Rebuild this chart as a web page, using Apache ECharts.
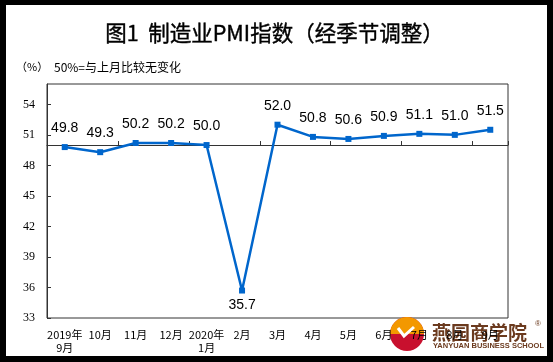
<!DOCTYPE html>
<html>
<head>
<meta charset="utf-8">
<script src="https://cdn.jsdelivr.net/npm/echarts@6/dist/echarts.min.js"></script>
<style>
html,body{margin:0;padding:0;background:#000;}
#chart{width:553px;height:362px;}
</style>
</head>
<body>
<div id="chart"></div>
<script>
const categories = ['2019年\n9月','10月','11月','12月','2020年\n1月','2月','3月','4月','5月','6月','7月','8月','9月'];
const pmiValues = [49.8, 49.3, 50.2, 50.2, 50.0, 35.7, 52.0, 50.8, 50.6, 50.9, 51.1, 51.0, 51.5];
const yMin = 33, yMax = 56, yInterval = 3, baseline = 50;
const titleText = '图1  制造业PMI指数（经季节调整）';
const unitText = '（%）';
const noteText = '50%=与上月比较无变化';

const gridLeft = 47, gridTop = 84, gridWidth = 461, gridHeight = 234;
const baseHeight = gridHeight * (yMax - baseline) / (yMax - yMin);

const chart = echarts.init(document.getElementById('chart'), null, {renderer: 'canvas'});
const seriesData = pmiValues.map(v => v < 40
  ? {value: v, label: {position: 'bottom', distance: 5}}
  : {value: v});

chart.setOption({
  backgroundColor: '#000',
  animation: false,
  grid: [
    {left: gridLeft, top: gridTop, width: gridWidth, height: gridHeight, show: true,
     borderColor: '#333', borderWidth: 1, backgroundColor: 'transparent'},
    {left: gridLeft, top: gridTop, width: gridWidth, height: baseHeight, show: false}
  ],
  xAxis: [
    {type: 'category', gridIndex: 0, data: categories, boundaryGap: true,
     axisLine: {show: false}, axisTick: {show: false},
     axisLabel: {interval: 0, fontSize: 11, lineHeight: 13, margin: 10, color: '#000',
                 fontFamily: '"Noto Sans CJK SC", sans-serif'}},
    {type: 'category', gridIndex: 1, data: categories, boundaryGap: true, position: 'bottom',
     axisLine: {show: true, lineStyle: {color: '#333', width: 1}},
     axisTick: {show: true, inside: true, length: 4, lineStyle: {color: '#333'}},
     axisLabel: {show: false}}
  ],
  yAxis: [
    {type: 'value', gridIndex: 0, min: yMin, max: yMax, interval: yInterval,
     axisLine: {show: true, lineStyle: {color: '#333'}},
     axisTick: {show: true, inside: true, length: 4, lineStyle: {color: '#333'}},
     splitLine: {show: false},
     axisLabel: {fontSize: 12, margin: 12, color: '#000', showMaxLabel: false,
                 fontFamily: '"Liberation Serif", serif'}},
    {type: 'value', gridIndex: 1, show: false, min: 0, max: 1}
  ],
  graphic: [
    {type: 'rect', z: -10, shape: {x: 6, y: 5, width: 541, height: 351}, style: {fill: '#fff'}},
    {type: 'text', left: 105, top: 22, style: {text: titleText, fontSize: 21.5, fontWeight: 'normal',
      fill: '#000', stroke: '#000', lineWidth: 0.4, fontFamily: '"Noto Sans CJK SC", sans-serif'}},
    {type: 'text', left: 16, top: 61, style: {text: unitText, fontSize: 11, fill: '#000',
      fontFamily: '"Noto Sans CJK SC", sans-serif'}},
    {type: 'text', left: 54, top: 61, style: {text: noteText, fontSize: 12, fill: '#000',
      fontFamily: '"Noto Sans CJK SC", sans-serif'}},
    {type: 'group', z: 100, children: [
      {type: 'circle', shape: {cx: 407, cy: 334, r: 17}, style: {fill: '#c8102e'}},
      {type: 'sector', shape: {cx: 407, cy: 334, r: 17, r0: 0, startAngle: Math.PI, endAngle: 2 * Math.PI}, style: {fill: '#f39800'}},
      {type: 'polyline', shape: {points: [[398, 328], [404, 336], [414, 327]]}, style: {stroke: '#fff', lineWidth: 3, fill: null}},
      {type: 'text', x: 432, y: 323, style: {text: '燕园商学院', fontSize: 19, fontWeight: 'bold', fill: '#6b3a1e',
        fontFamily: '"Noto Sans CJK SC", sans-serif'}},
      {type: 'text', x: 433, y: 342, style: {text: 'YANYUAN BUSINESS SCHOOL', fontSize: 7.5, fontWeight: 'bold', fill: '#6b3a1e',
        fontFamily: '"Liberation Sans", sans-serif'}},
      {type: 'text', x: 535, y: 320, style: {text: '®', fontSize: 8, fill: '#6b3a1e',
        fontFamily: '"Liberation Sans", sans-serif'}}
    ]}
  ],
  series: [{
    type: 'line', xAxisIndex: 0, yAxisIndex: 0, data: seriesData, z: 5,
    color: '#0066cc',
    lineStyle: {color: '#0066cc', width: 2.5},
    itemStyle: {color: '#0066cc'},
    symbol: 'rect', symbolSize: 6, showAllSymbol: true,
    label: {show: true, position: 'top', distance: 9, fontSize: 14, color: '#000',
            fontFamily: '"Liberation Sans", Arial, sans-serif',
            formatter: p => Number(p.value).toFixed(1)}
  }]
});
</script>
</body>
</html>
